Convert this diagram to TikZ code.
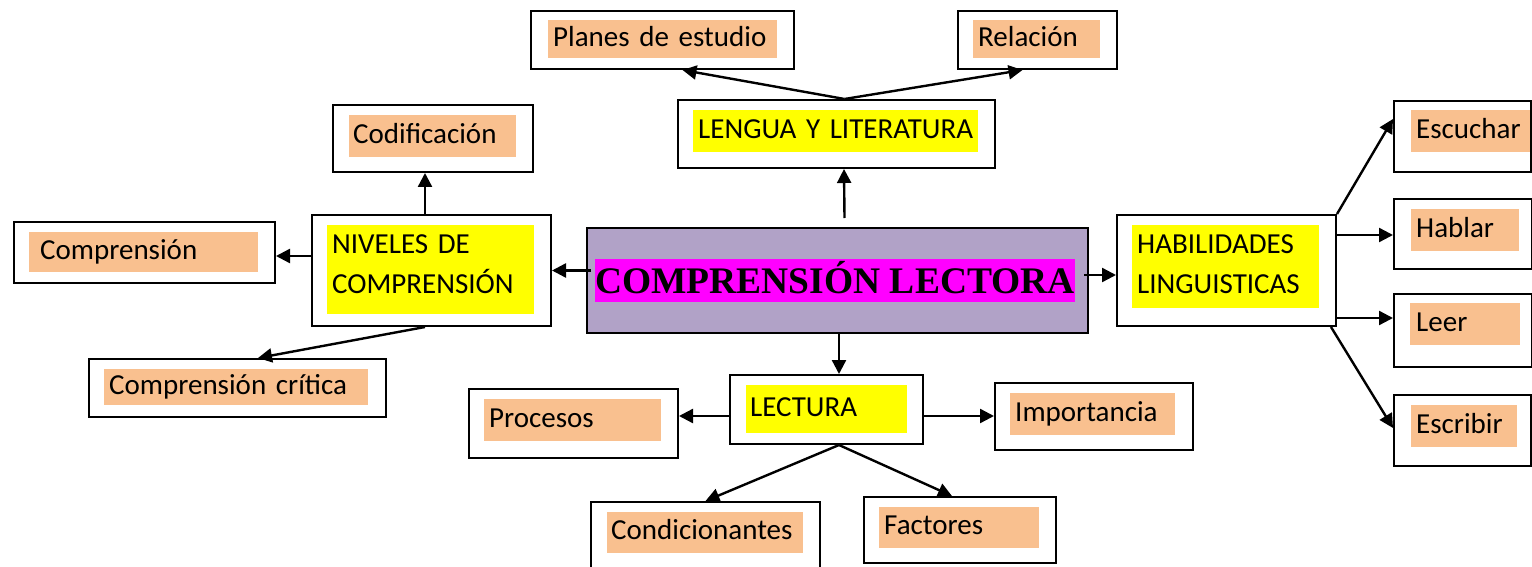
\documentclass[tikz,border=0pt]{standalone}
\usepackage{fontspec}
\setmainfont{Carlito}[WordSpace=0.8]
\newfontfamily\titlefont{Liberation Serif}
\usetikzlibrary{arrows.meta,calc}
\definecolor{orangec}{HTML}{F9C08F}
\definecolor{yellowc}{HTML}{FFFF00}
\definecolor{magentac}{HTML}{FF00FF}
\definecolor{lavc}{HTML}{B1A2C7}
\tikzset{
  obox/.style={draw=black, line width=2pt, fill=white, inner sep=0pt, anchor=north west},
  lab/.style={anchor=north west, inner ysep=0pt, align=left, text height=20pt, text depth=6pt,
              font=\fontsize{29}{40}\selectfont},
  orng/.style={lab, fill=orangec},
  yell/.style={lab, fill=yellowc},
  conn/.style={line width=2.4pt, -{Triangle[length=14pt,width=14pt]}},
}
\begin{document}
\begin{tikzpicture}[x=1pt,y=-1pt]
\useasboundingbox (0,0) rectangle (1532,567);
\clip (0,0) rectangle (1532,567);
% outer boxes
\node[obox, minimum width=263pt, minimum height=58pt] (planes) at (530,10) {};
\node[obox, minimum width=159pt, minimum height=58pt] (rel) at (957,10) {};
\node[obox, minimum width=317pt, minimum height=68pt] (lengua) at (677,99) {};
\node[obox, minimum width=501pt, minimum height=105pt, fill=lavc] (cl) at (586,227) {};
\node[obox, minimum width=239pt, minimum height=111pt] (niv) at (311,214) {};
\node[obox, minimum width=200pt, minimum height=67pt] (cod) at (332,104) {};
\node[obox, minimum width=261pt, minimum height=61pt] (comp) at (13,221) {};
\node[obox, minimum width=297pt, minimum height=58pt] (crit) at (88,358) {};
\node[obox, minimum width=219pt, minimum height=111pt] (hab) at (1116,214) {};
\node[obox, minimum width=137pt, minimum height=71pt] (esc) at (1393,100) {};
\node[obox, minimum width=138pt, minimum height=70pt] (habl) at (1393,198) {};
\node[obox, minimum width=138pt, minimum height=73pt] (leer) at (1393,293) {};
\node[obox, minimum width=137pt, minimum height=71pt] (escr) at (1393,394) {};
\node[obox, minimum width=193pt, minimum height=69pt] (lect) at (729,374) {};
\node[obox, minimum width=209pt, minimum height=69pt] (proc) at (468,388) {};
\node[obox, minimum width=198pt, minimum height=67pt] (imp) at (994,382) {};
\node[obox, minimum width=229pt, minimum height=79pt] (cond) at (590,501) {};
\node[obox, minimum width=192pt, minimum height=66pt] (fact) at (863,496) {};
% inner labels
\node[orng, minimum height=38pt, inner xsep=5pt, text width=219pt] (tplanes) at (548,20) {Planes de estudio};
\node[orng, minimum height=38pt, inner xsep=5pt, text width=117pt] (trel) at (973,20) {Relación};
\node[yell, minimum height=42pt, inner xsep=5pt, text width=275pt] (tlengua) at (693,110) {LENGUA Y LITERATURA};
\node[anchor=north west, fill=magentac, inner xsep=0pt, inner ysep=0pt, minimum width=479pt, minimum height=43pt,
      text height=26pt, text depth=0pt, font=\titlefont\bfseries\fontsize{37.5}{40}\selectfont] (tcl) at (595,259) {COMPRENSIÓN LECTORA};
\node[yell, minimum height=89pt, inner xsep=5pt, text width=197pt, text height=20pt, text depth=53pt] (tniv) at (327,225) {NIVELES DE\\COMPRENSIÓN};
\node[orng, minimum height=42pt, inner xsep=4pt, text width=159pt] (tcod) at (349,115) {Codificación};
\node[orng, minimum height=40pt, inner xsep=11pt, text width=207pt] (tcomp) at (29,232) {Comprensión};
\node[orng, minimum height=36pt, inner xsep=5pt, text width=254pt] (tcrit) at (104,369) {Comprensión crítica};
\node[yell, minimum height=83pt, inner xsep=5pt, text width=177pt, text height=20pt, text depth=47pt] (thab) at (1132,225) {HABILIDADES\\LINGUISTICAS};
\node[orng, minimum height=42pt, inner xsep=5pt, text width=109pt] (tesc) at (1411,110) {Escuchar};
\node[orng, minimum height=42pt, inner xsep=5pt, text width=98pt] (thabl) at (1411,209) {Hablar};
\node[orng, minimum height=42pt, inner xsep=6pt, text width=98pt] (tleer) at (1410,303) {Leer};
\node[orng, minimum height=42pt, inner xsep=5pt, text width=96pt] (tescr) at (1411,405) {Escribir};
\node[yell, minimum height=48pt, inner xsep=4pt, text width=153pt] (tlect) at (746,385) {LECTURA};
\node[orng, minimum height=42pt, inner xsep=5pt, text width=167pt] (tproc) at (484,399) {Procesos};
\node[orng, minimum height=42pt, inner xsep=5pt, text width=155pt] (timp) at (1010,393) {Importancia};
\node[orng, minimum height=41pt, inner xsep=4pt, text width=188pt] (tcond) at (607,512) {Condicionantes};
\node[orng, minimum height=41pt, inner xsep=5pt, text width=150pt] (tfact) at (879,507) {Factores};
% connectors
\draw[conn] ([xshift=8pt]lengua.north) -- ([xshift=20pt]planes.south);
\draw[conn] ([xshift=8pt]lengua.north) -- ([xshift=-15pt]rel.south);
\draw[conn] ([xshift=7pt,yshift=9pt]cl.north) -- ([xshift=7.5pt]lengua.south);
\draw[conn] ([xshift=5pt]cl.west |- niv.east) -- (niv.east);
\draw[conn] ([xshift=-5pt,yshift=5.5pt]cl.east) -- ([yshift=-4.5pt]hab.west);
\draw[conn] ([xshift=1.5pt]cl.south) -- ([xshift=12.5pt]lect.north);
\draw[conn] ([xshift=-6.5pt]niv.north) -- ([xshift=-6.5pt]niv.north |- cod.south);
\draw[conn] ([yshift=14.5pt]niv.west) -- ([yshift=14.5pt]niv.west -| comp.east);
\draw[conn] ([xshift=-6.5pt]niv.south) -- ([xshift=20.5pt]crit.north);
\draw[conn] (hab.north east) -- ([yshift=17.5pt]esc.west);
\draw[conn] ([yshift=35.5pt]hab.east) -- ([yshift=35.5pt]hab.east -| habl.west);
\draw[conn] ([yshift=-47.5pt]hab.east) -- ([yshift=-47.5pt]hab.east -| leer.west);
\draw[conn] ([xshift=-6pt]hab.south east) -- ([yshift=2.5pt]escr.west);
\draw[conn] ([yshift=-6.5pt]lect.west) -- ([yshift=-6.5pt]lect.west -| proc.east);
\draw[conn] ([yshift=-6.5pt]lect.east) -- ([yshift=-6.5pt]lect.east -| imp.west);
\draw[conn] ([xshift=12.5pt]lect.south) -- (cond.north);
\draw[conn] ([xshift=12.5pt]lect.south) -- ([xshift=-8pt]fact.north);
\end{tikzpicture}
\end{document}
